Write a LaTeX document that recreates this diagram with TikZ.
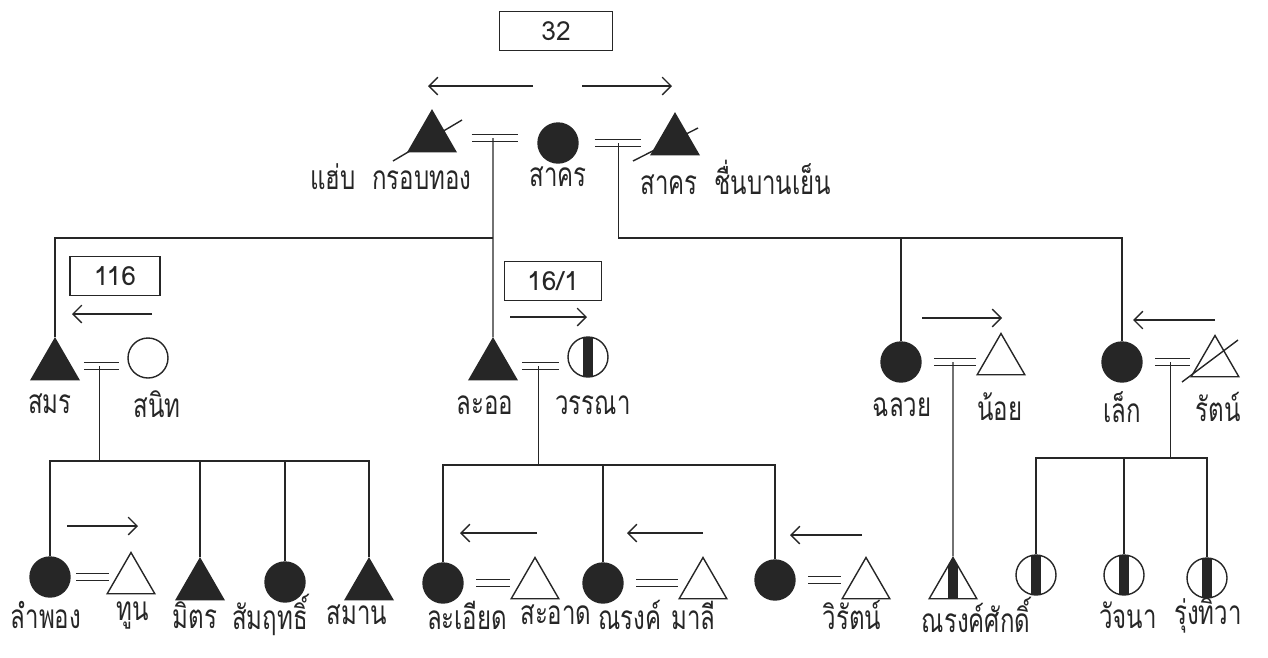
\documentclass[tikz,border=0pt]{standalone}
\usepackage{fontspec}
\newfontfamily\thaifont[Script=Thai, FakeStretch=0.72]{Loma}
\newfontfamily\numfont{Loma}
\usetikzlibrary{positioning, arrows.meta, shapes.geometric, calc}
\colorlet{ink}{black!85}

\begin{document}
\begin{tikzpicture}[
    x=0.02cm, y=-0.02cm, color=ink, line width=0.8pt,
    male/.style={
      regular polygon, regular polygon sides=3, minimum size=1.1cm,
      inner sep=0pt, draw, line width=0.8pt
    },
    female/.style={circle, minimum size=0.8cm, inner sep=0pt, draw, line width=0.8pt},
    affected/.style={fill=ink},
    half/.style={path picture={
      \fill[ink] ($(path picture bounding box.center)+(-5,-40)$)
        rectangle ($(path picture bounding box.center)+(5,40)$);}},
    wed/.style={double=white, double distance=3.5pt, line width=0.8pt,
      shorten <=7pt, shorten >=5pt},
    move/.style={-{Straight Barb[length=5pt, width=10pt]}, line width=0.8pt},
    pname/.style={font=\thaifont\fontsize{19}{22}\selectfont, inner sep=1pt},
    house/.style={draw, line width=0.8pt, font=\numfont\fontsize{15}{18}\selectfont,
      minimum height=0.78cm, inner sep=0pt},
]
    \useasboundingbox (0,0) rectangle (1268,657);

    % first generation
    \node[male, affected] (krob) at (432,138) {};
    \node[female, affected] (sakhon) at (558,143) {};
    \node[male, affected] (chuen) at (675,141) {};
    \draw ($(krob)+(-39,23)$) -- ($(krob)+(30,-18)$);
    \draw ($(chuen)+(-42,20)$) -- ($(chuen)+(23,-13)$);
    \draw[wed, shorten <=13pt, shorten >=11pt]
      (krob.east) -- coordinate[pos=.5] (m1) (krob.east -| sakhon.west);
    \draw[wed, shorten <=9pt, shorten >=10pt]
      (sakhon.east) -- coordinate[pos=.5] (m2) (sakhon.east -| chuen.west);

    \node[house, minimum width=2.26cm] (h32) at (556,31) {32};
    \draw[move] (533,86) -- (428,86);
    \draw[move] (582,86) -- (672,86);

    \node[pname, anchor=east] (krob-name) at (474,177) {แฮ่บ\enspace กรอบทอง};
    \node[pname] (sakhon-name) at (558,177) {สาคร};
    \node[pname, anchor=west] (chuen-name) at (638,177) {สาคร\enspace ชื่นบานเย็น};

    % second generation
    \coordinate (bar1) at (0,238);
    \node[male, affected] (somon) at (55,366) {};
    \node[female] (sanit) at (148,358) {};
    \node[male, affected] (laor) at (493,366) {};
    \node[female, half] (wanna) at (588,357) {};
    \node[female, affected] (chaluay) at (901,362) {};
    \node[male] (noi) at (1001,361) {};
    \node[female, affected] (lek) at (1122,362) {};
    \node[male] (rat) at (1215,363) {};
    \draw ($(rat)+(-33,19)$) -- ($(rat)+(23,-23)$);

    \draw (somon.north) |- (m1 |- bar1);
    \draw (m1) -- (laor.north);
    \draw (m2) |- (lek.north |- bar1) -- (lek.north);
    \draw (chaluay.north) -- (chaluay.north |- bar1);

    \draw[wed] (somon.east) -- coordinate[pos=.5] (m3) (somon.east -| sanit.west);
    \draw[wed] (laor.east) -- coordinate[pos=.5] (m4) (laor.east -| wanna.west);
    \draw[wed] (chaluay.east) -- coordinate[pos=.5] (m5) (chaluay.east -| noi.west);
    \draw[wed] (lek.east) -- coordinate[pos=.5] (m6) (lek.east -| rat.west);

    \node[house, minimum width=1.8cm] (h116) at (115,276) {116};
    \node[house, minimum width=1.94cm] (h161) at (553,281) {16/1};
    \draw[move] (152,314) -- (72,314);
    \draw[move] (510,317) -- (587,317);
    \draw[move] (922,318) -- (1002,318);
    \draw[move] (1215,320) -- (1133,320);

    \node[pname] (somon-name) at (50,404) {สมร};
    \node[pname] (sanit-name) at (157,404) {สนิท};
    \node[pname] (laor-name) at (485,405) {ละออ};
    \node[pname] (wanna-name) at (593,405) {วรรณา};
    \node[pname] (chaluay-name) at (902,407) {ฉลวย};
    \node[pname] (noi-name) at (1000,407) {น้อย};
    \node[pname] (lek-name) at (1122,407) {เล็ก};
    \node[pname] (rat-name) at (1218,407) {รัตน์};

    % third generation
    \node[female, affected] (lamphong) at (50,577) {};
    \node[male] (thun) at (131,580) {};
    \node[male, affected] (mit) at (200,586) {};
    \node[female, affected] (samrit) at (285,582) {};
    \node[male, affected] (saman) at (369,586) {};
    \node[female, affected] (laiat) at (443,583) {};
    \node[male] (laiat-hb) at (535,585) {};
    \node[female, affected] (saat) at (603,583) {};
    \node[male] (narong) at (703,585) {};
    \node[female, affected] (mali) at (775,580) {};
    \node[male] (wirat) at (866,585) {};
    \node[male, half] (narongsak) at (953,585) {};
    \node[female, half] (daughter) at (1036,575) {};
    \node[female, half] (watchana) at (1124,575) {};
    \node[female, half] (rungthiwa) at (1207,578) {};

    \coordinate (bar2) at (0,461);
    \draw (m3) -- (m3 |- bar2);
    \draw (lamphong.north) |- (saman.north |- bar2) -- (saman.north);
    \foreach \k in {mit, samrit}
      \draw (\k.north) -- (\k.north |- bar2);

    \coordinate (bar3) at (0,465);
    \draw (m4) -- (m4 |- bar3);
    \draw (laiat.north) |- (mali.north |- bar3) -- (mali.north);
    \draw (saat.north) -- (saat.north |- bar3);

    \draw (m5) -- (narongsak.north);

    \coordinate (bar4) at (0,458);
    \draw (m6) -- (m6 |- bar4);
    \draw (daughter.north) |- (rungthiwa.north |- bar4) -- (rungthiwa.north);
    \draw (watchana.north) -- (watchana.north |- bar4);

    \draw[wed, shorten <=3pt, shorten >=3pt] (lamphong.east) -- (lamphong.east -| thun.west);
    \draw[wed] (laiat.east) -- (laiat.east -| laiat-hb.west);
    \draw[wed] (saat.east) -- (saat.east -| narong.west);
    \draw[wed] (mali.east) -- (mali.east -| wirat.west);

    \draw[move] (67,526) -- (138,526);
    \draw[move] (537,533) -- (460,533);
    \draw[move] (703,533) -- (627,533);
    \draw[move] (862,535) -- (790,535);

    \node[pname] (lamphong-name) at (46,615) {ลำพอง};
    \node[pname] (thun-name) at (133,615) {ทูน};
    \node[pname] (mit-name) at (195,615) {มิตร};
    \node[pname] (samrit-name) at (270,615) {สัมฤทธิ์};
    \node[pname] (saman-name) at (357,615) {สมาน};
    \node[pname] (laiat-name) at (467,615) {ละเอียด};
    \node[pname, anchor=east] (saat-name) at (594,615) {สะอาด};
    \node[pname, anchor=west] (narong-name) at (596,615) {ณรงค์};
    \node[pname, anchor=west] (mali-name) at (669,615) {มาลี};
    \node[pname] (wirat-name) at (852,615) {วิรัตน์};
    \node[pname] (narongsak-name) at (976,615) {ณรงค์ศักดิ์};
    \node[pname] (watchana-name) at (1128,615) {วัจนา};
    \node[pname] (rungthiwa-name) at (1208,615) {รุ่งทิวา};
\end{tikzpicture}
\end{document}
